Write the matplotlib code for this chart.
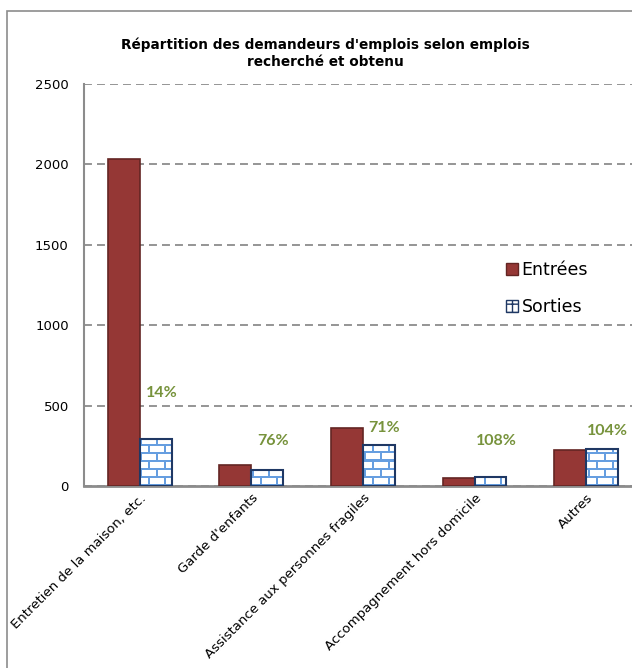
import numpy as np
import matplotlib
matplotlib.use("Agg")
import matplotlib.pyplot as plt
from matplotlib.patches import Patch, Rectangle

plt.rcParams['font.family'] = ['DejaVu Sans']
plt.rcParams['hatch.color'] = '#5b94dc'

categories = ["Entretien de la maison, etc.", "Garde d'enfants",
              "Assistance aux personnes fragiles", "Accompagnement hors domicile",
              "Autres"]
entrees = [2033, 131, 361, 50, 224]
sorties = [290, 97, 256, 54, 233]
pct_labels = ["14%", "76%", "71%", "108%", "104%"]
pct_y = [578, 280, 361, 280, 342]

W, H, DPI = 632, 668, 100
fig = plt.figure(figsize=(W / DPI, H / DPI), dpi=DPI)
ax = fig.add_axes([84 / W, 182 / H, (W - 84) / W, 402 / H])

# chart frame (cut on the right/bottom like the screenshot)
fig.add_artist(Rectangle((7 / W, -0.1), 1.2, 1 - 11 / H + 0.1, transform=fig.transFigure,
                         fill=False, edgecolor='#8c8c8c', linewidth=1.2))

x = np.arange(len(categories))
bw = 0.286
xmin, xmax = -0.5, 4 + (W - 586) / 112
ymin, ymax = 0, 2500

ax.bar(x - bw / 2, entrees, bw, color='#953735', edgecolor='#632523', linewidth=1.2, zorder=3)
s_bars = ax.bar(x + bw / 2, sorties, bw, facecolor='none', edgecolor='#1f3864',
                linewidth=1.5, zorder=4)

# brick texture for Sorties, clipped to each bar
ph, pw = 402, W - 84
tex = np.ones((ph, pw, 3))
blue = np.array([0.40, 0.62, 0.88])
cols = np.arange(pw)
for r in range(ph):
    k = ph - 1 - r
    band = k // 8
    if k % 8 < 2:
        tex[r, :] = blue
    off = 0 if band % 2 == 0 else 8
    tex[r, (cols + off) % 16 < 2] = blue
for b in s_bars:
    im = ax.imshow(tex, extent=(xmin, xmax, ymin, ymax), aspect='auto',
                   interpolation='nearest', zorder=3.5)
    im.set_clip_path(b)

ax.set_xlim(xmin, xmax)
ax.set_ylim(ymin, ymax)
ax.set_yticks(np.arange(0, 2501, 500))
ax.yaxis.grid(True, linestyle=(0, (4.4, 2.8)), color='#8c8c8c', linewidth=1.3, zorder=0)
ax.tick_params(axis='y', length=0, pad=11, labelsize=9.5)
ax.tick_params(axis='x', length=0, pad=4)
ax.set_xticks(x)
ax.set_xticklabels(categories, rotation=45, ha='right', rotation_mode='anchor', fontsize=9.5)

for s in ['top', 'right']:
    ax.spines[s].set_visible(False)
ax.spines['left'].set_color('#8c8c8c')
ax.spines['left'].set_linewidth(1.5)
ax.spines['bottom'].set_color('#8c8c8c')
ax.spines['bottom'].set_linewidth(2)

for xi, lab, yy in zip(x, pct_labels, pct_y):
    ax.text(xi + bw / 2 + 0.05, yy, lab, ha='center', va='center', color='#77933c',
            fontsize=11.5, fontweight='bold', family='Lato')

fig.text(325 / W, 1 - 53 / H, "Répartition des demandeurs d'emplois selon emplois\nrecherché et obtenu",
         ha='center', va='center', fontsize=9.8, fontweight='bold', linespacing=1.3)

handles = [Patch(facecolor='#953735', edgecolor='#632523', label='Entrées'),
           Patch(facecolor='white', edgecolor='#1f3864', hatch='++', label='Sorties')]
ax.legend(handles=handles, loc='upper left', bbox_to_anchor=(415 / (W - 84), 232 / 402),
          frameon=False, fontsize=12.5, handlelength=0.7, handleheight=0.7,
          handletextpad=0.2, labelspacing=1.1, borderaxespad=0)

fig.savefig("out.png", dpi=DPI)
